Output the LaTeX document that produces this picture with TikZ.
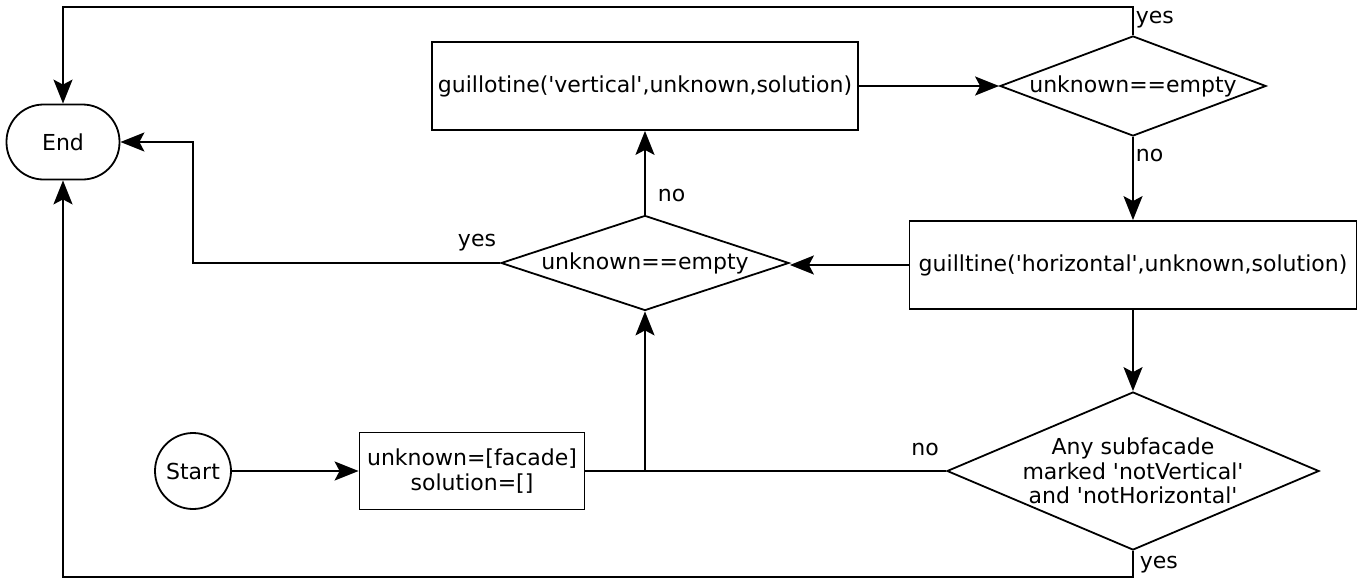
\documentclass[tikz,border=0pt]{standalone}
\usepackage{fontspec}
\setmainfont{DejaVu Sans}
\usetikzlibrary{shapes.geometric,arrows.meta}

\tikzset{
  every node/.style={font=\fontsize{22}{24.5}\selectfont, inner sep=0pt},
  box/.style={draw, rectangle, align=center},
  test/.style={draw, diamond, align=center},
  arr/.style={-{Stealth[length=24pt,width=19pt,inset=5pt]}},
  lbl/.style={inner sep=1pt}
}
\newcommand{\qt}{\textquotesingle}

\begin{document}
\begin{tikzpicture}[x=1pt,y=-1pt,line width=1.8pt]
  \useasboundingbox (0,0) rectangle (1369,581);

  % Noeuds
  \node[draw, rectangle, rounded corners=37pt, minimum width=113pt, minimum height=75pt] (end) at (63,142) {End};
  \node[draw, circle, minimum size=76pt] (start) at (193,471) {Start};
  \node[box, minimum width=225pt, minimum height=77pt] (init) at (472,471) {unknown=[facade]\\solution=[]};
  \node[box, minimum width=426pt, minimum height=88pt] (vcut) at (645,86) {guillotine(\qt vertical\qt,unknown,solution)};
  \node[test, aspect=2.66, minimum width=266pt, minimum height=100pt] (vtest) at (1133,86) {unknown==empty};
  \node[box, minimum width=447pt, minimum height=88pt] (hcut) at (1133,265) {guilltine(\qt horizontal\qt,unknown,solution)};
  \node[test, aspect=3, minimum width=288pt, minimum height=95pt] (htest) at (645,263) {unknown==empty};
  \node[test, aspect=2.35, inner sep=-4pt, minimum width=372pt, minimum height=158pt] (mtest) at (1133,471)
    {Any subfacade\\marked \qt notVertical\qt\\and \qt notHorizontal\qt};

  % Points de passage
  \coordinate (ytop) at (0,7);
  \coordinate (ybot) at (0,577);
  \coordinate (xbend) at (193,0);

  % Liaisons
  \draw[arr] (start) -- (init);
  \draw (init.east) -- (mtest.west);
  \draw[arr] (init.east -| htest.south) -- (htest.south);
  \draw[arr] (htest.north) -- (vcut.south);
  \draw[arr] (htest.west) -| (xbend |- end.east) -- (end.east);
  \draw[arr] (vcut.east) -- (vtest.west);
  \draw[arr] (vtest.north) -- (vtest.north |- ytop) -| (end.north);
  \draw[arr] (vtest.south) -- (hcut.north);
  \draw[arr] (hcut.west) -- (htest.east |- hcut.west);
  \draw[arr] (hcut.south) -- (mtest.north);
  \draw[arr] (mtest.south) -- (mtest.south |- ybot) -| (end.south);

  % Etiquettes
  \node[lbl, anchor=west] (yes1) at (1134,20) {yes};
  \node[lbl, anchor=west] (no1) at (1134,155) {no};
  \node[lbl, anchor=west] (no2) at (656,195) {no};
  \node[lbl] (yes2) at (477,243) {yes};
  \node[lbl] (no3) at (925,449) {no};
  \node[lbl, anchor=west] (yes3) at (1138,565) {yes};
\end{tikzpicture}
\end{document}
